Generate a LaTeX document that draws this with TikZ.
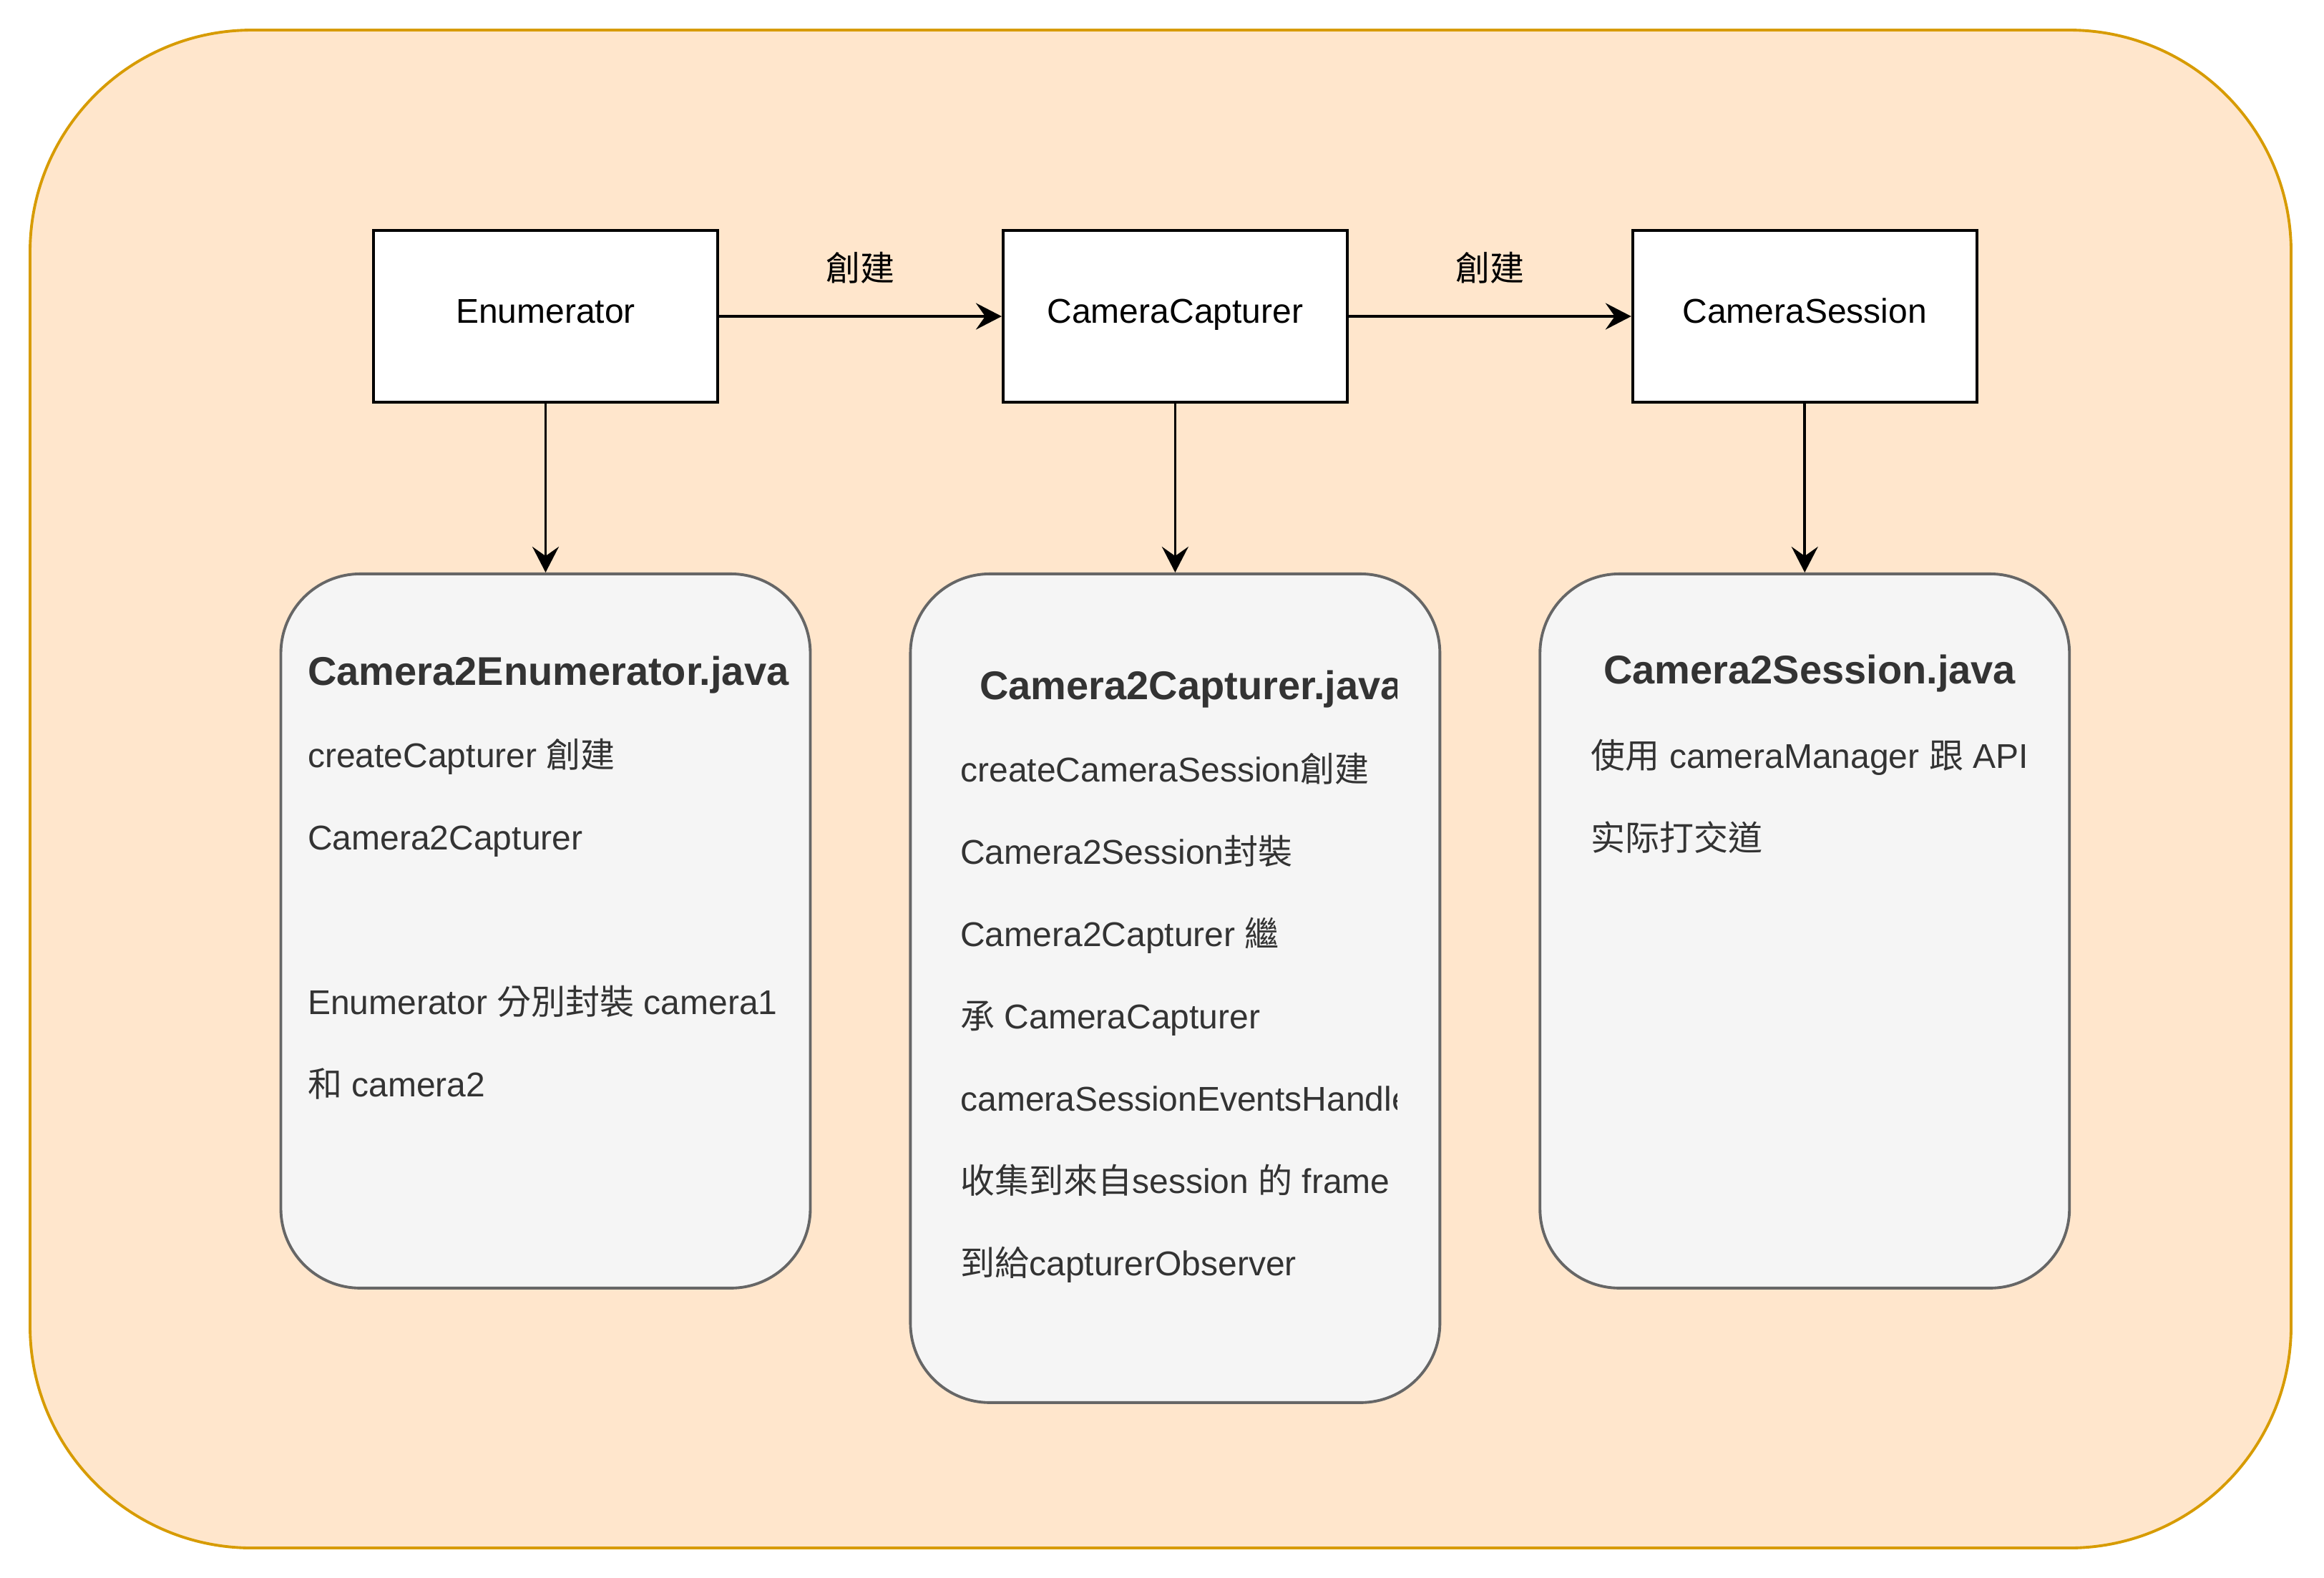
\documentclass[tikz,border=0pt]{standalone}
\usepackage{fontspec}
\setmainfont{Liberation Sans}
\newfontfamily\zhfont{Noto Sans CJK TC}
\newcommand{\zh}[1]{{\zhfont #1}}
\usepackage{tikz}
\usetikzlibrary{arrows.meta,positioning}
\definecolor{frameorange}{HTML}{D79B00}
\definecolor{framefill}{HTML}{FFE6CC}
\definecolor{filegray}{HTML}{666666}
\definecolor{filefill}{HTML}{F5F5F5}
\definecolor{filetext}{HTML}{333333}

\begin{document}
\begin{tikzpicture}[
  frame/.style={draw=frameorange,fill=framefill,line width=1.1pt,rounded corners=3.1cm,
                minimum width=31.6cm,minimum height=21.21cm},
  cls/.style={draw,fill=white,line width=1.1pt,minimum width=4.81cm,minimum height=2.4cm,
              text height=.72em,text depth=.2em,font=\fontsize{13.66pt}{16pt}\selectfont},
  file/.style={draw=filegray,fill=filefill,line width=1.1pt,rounded corners=1.11cm,
               minimum width=7.4cm,minimum height=9.98cm},
  ttl/.style={anchor=base west,inner sep=0pt,text=filetext,
              font=\fontsize{15.93pt}{19pt}\selectfont\bfseries},
  body/.style={anchor=base west,inner sep=0pt,text=filetext,align=left,
               font=\fontsize{13.66pt}{32.72pt}\selectfont},
  arr/.style={line width=1.05pt,-{Stealth[length=3.6mm,width=3.7mm,inset=1.3mm]}},
  lbl/.style={inner sep=0pt,font=\fontsize{13.66pt}{16pt}\selectfont}]
  \useasboundingbox (0,0) rectangle (32.48,-22.04);
  \node[frame] (bg) at (16.22,-11.025) {};
  % classes
  \node[cls] (enu) at (7.625,-4.42) {Enumerator};
  \node[cls,right=3.95cm of enu] (cap) {CameraCapturer};
  \node[cls,right=3.95cm of cap] (ses) {CameraSession};
  \draw[arr] (enu) -- node[lbl,above=4.4mm] (l1) {\zh{創建}} (cap);
  \draw[arr] (cap) -- node[lbl,above=4.4mm] (l2) {\zh{創建}} (ses);
  % java files
  \node[file,below=2.36cm of enu] (f1) {};
  \node[file,below=2.36cm of cap,minimum height=11.58cm] (f2) {};
  \node[file,below=2.36cm of ses] (f3) {};
  \draw[arr] (enu) -- (f1);
  \draw[arr] (cap) -- (f2);
  \draw[arr] (ses) -- (f3);
  % base of a body node is its last line
  \node[ttl] (t1) at (4.295,-9.57) {Camera2Enumerator.java};
  \node[body] (d1) at (4.295,-15.32) {createCapturer \zh{創建}\\Camera2Capturer\\[32.72pt]
    Enumerator \zh{分別封裝} camera1\\\zh{和} camera2};
  \begin{scope}
    \clip (13.3,-8.1) rectangle (19.52,-19.5);
    \node[ttl] (t2) at (13.687,-9.77) {Camera2Capturer.java};
    \node[body] (d2) at (13.416,-17.82) {createCameraSession\zh{創建}\\Camera2Session\zh{封裝}\\
      Camera2Capturer \zh{繼}\\\zh{承} CameraCapturer\\cameraSessionEventsHandler\\
      \zh{收集到來自}session \zh{的} frame\\\zh{到給}capturerObserver};
  \end{scope}
  \node[ttl] (t3) at (22.405,-9.55) {Camera2Session.java};
  \node[body] (d3) at (22.23,-11.88) {\zh{使用} cameraManager \zh{跟} API\\\zh{实际打交道}};
\end{tikzpicture}
\end{document}
